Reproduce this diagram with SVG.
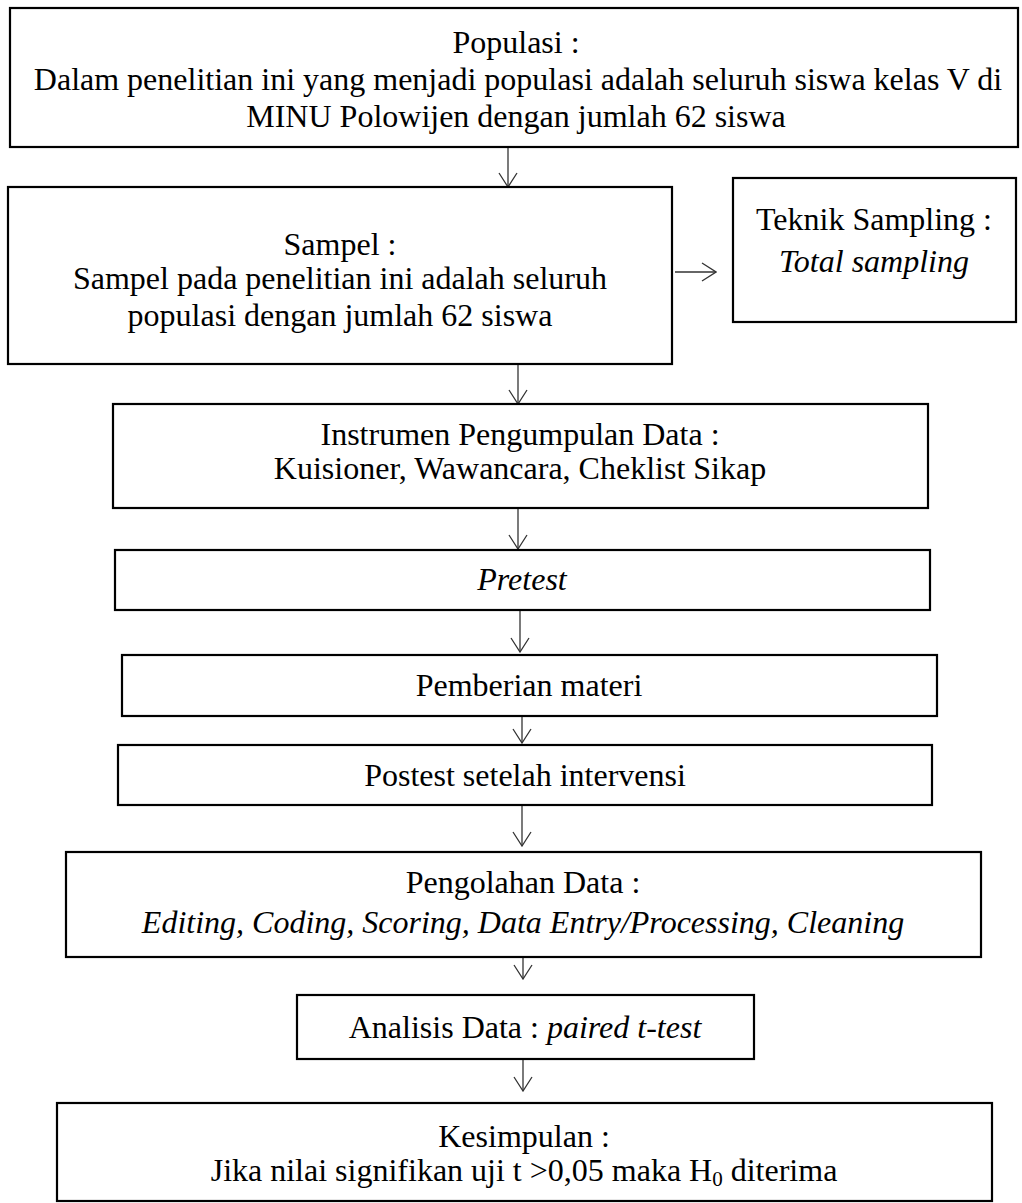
<svg xmlns="http://www.w3.org/2000/svg" width="1022" height="1203" viewBox="0 0 1022 1203">
<style>
.box{fill:#fff;stroke:#000;stroke-width:2.2}
text{font-family:"Liberation Serif","Times New Roman",serif;font-size:32px;fill:#000;text-anchor:middle}
.i{font-style:italic}
.c{stroke:#333;stroke-width:1.3;fill:none}
</style>
<defs>
<marker id="ah" viewBox="0 0 16 20" refX="15" refY="10" markerWidth="16" markerHeight="20" markerUnits="userSpaceOnUse" orient="auto">
<path d="M1,1 L15,10 L1,19" fill="none" stroke="#333" stroke-width="1.3"/>
</marker>
</defs>
<rect width="1022" height="1203" fill="#fff"/>
<g id="connectors">
<line class="c" x1="508" y1="147" x2="508" y2="187" marker-end="url(#ah)"/>
<line class="c" x1="675" y1="272" x2="716" y2="272" marker-end="url(#ah)"/>
<line class="c" x1="518" y1="364" x2="518" y2="404" marker-end="url(#ah)"/>
<line class="c" x1="518" y1="508" x2="518" y2="549" marker-end="url(#ah)"/>
<line class="c" x1="520" y1="610" x2="520" y2="652" marker-end="url(#ah)"/>
<line class="c" x1="522" y1="704" x2="522" y2="743" marker-end="url(#ah)"/>
<line class="c" x1="522" y1="805" x2="522" y2="846" marker-end="url(#ah)"/>
<line class="c" x1="523" y1="940" x2="523" y2="979" marker-end="url(#ah)"/>
<line class="c" x1="523" y1="1050" x2="523" y2="1091" marker-end="url(#ah)"/>
</g>
<g id="populasi">
<rect class="box" x="10" y="8" width="1008" height="139"/>
<text x="516" y="53">Populasi :</text>
<text x="518" y="90">Dalam penelitian ini yang menjadi populasi adalah seluruh siswa kelas V di</text>
<text x="516" y="127">MINU Polowijen dengan jumlah 62 siswa</text>
</g>
<g id="sampel">
<rect class="box" x="8" y="187" width="664" height="177"/>
<text x="340" y="255">Sampel :</text>
<text x="340" y="289">Sampel pada penelitian ini adalah seluruh</text>
<text x="340" y="326">populasi dengan jumlah 62 siswa</text>
</g>
<g id="teknik">
<rect class="box" x="733" y="178" width="283" height="144"/>
<text x="874" y="230">Teknik Sampling :</text>
<text x="874" y="272" class="i">Total sampling</text>
</g>
<g id="instrumen">
<rect class="box" x="113" y="404" width="815" height="104"/>
<text x="520" y="445">Instrumen Pengumpulan Data :</text>
<text x="520" y="479">Kuisioner, Wawancara, Cheklist Sikap</text>
</g>
<g id="pretest">
<rect class="box" x="115" y="550" width="815" height="60"/>
<text x="522" y="590" class="i">Pretest</text>
</g>
<g id="pemberian">
<rect class="box" x="122" y="655" width="815" height="61"/>
<text x="529" y="696">Pemberian materi</text>
</g>
<g id="postest">
<rect class="box" x="118" y="745" width="814" height="60"/>
<text x="525" y="786">Postest setelah intervensi</text>
</g>
<g id="pengolahan">
<rect class="box" x="66" y="852" width="915" height="105"/>
<text x="523" y="893">Pengolahan Data :</text>
<text x="523" y="933" class="i">Editing, Coding, Scoring, Data Entry/Processing, Cleaning</text>
</g>
<g id="analisis">
<rect class="box" x="297" y="995" width="457" height="64"/>
<text x="525" y="1038">Analisis Data : <tspan class="i">paired t-test</tspan></text>
</g>
<g id="kesimpulan">
<rect class="box" x="57" y="1103" width="935" height="98"/>
<text x="524" y="1147">Kesimpulan :</text>
<text x="524" y="1181">Jika nilai signifikan uji t &gt;0,05 maka H<tspan font-size="21" dy="5">0</tspan><tspan dy="-5"> diterima</tspan></text>
</g>
</svg>
